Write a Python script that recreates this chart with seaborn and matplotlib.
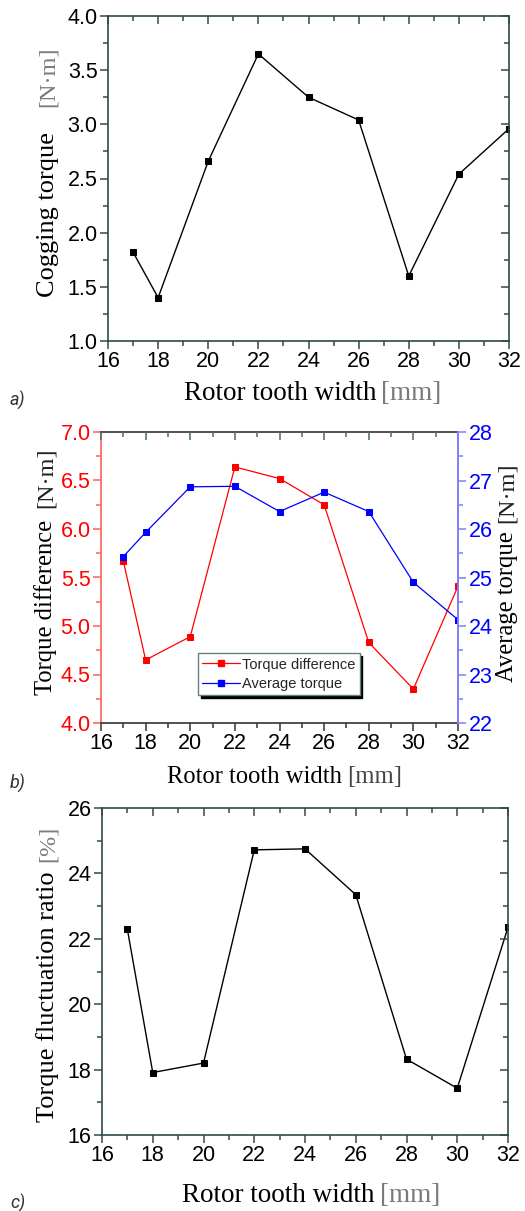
import numpy as np
import pandas as pd
import matplotlib
matplotlib.use("Agg")
import matplotlib.pyplot as plt
from matplotlib.ticker import MultipleLocator, FormatStrFormatter
from matplotlib.lines import Line2D
import seaborn as sns

# Rotor tooth width sweep [mm]
tooth_width = [17, 18, 20, 22, 24, 26, 28, 30, 32]

# a) cogging torque [N·m]
cogging_torque = [1.82, 1.40, 2.66, 3.65, 3.25, 3.04, 1.60, 2.54, 2.96]

# b) torque difference [N·m] and average torque [N·m]
torque_difference = [5.67, 4.65, 4.89, 6.64, 6.52, 6.25, 4.83, 4.35, 5.41]
average_torque = [25.43, 25.93, 26.87, 26.88, 26.36, 26.76, 26.36, 24.90, 24.13]

# c) torque fluctuation ratio [%]
fluctuation_ratio = [22.29, 17.91, 18.20, 24.72, 24.75, 23.35, 18.32, 17.43, 22.35]

x_ticks = [16, 18, 20, 22, 24, 26, 28, 30, 32]

sns.set_style("ticks")
plt.rcParams["font.family"] = ["Liberation Sans", "DejaVu Sans"]

W, H = 525, 1211
fig = plt.figure(figsize=(W / 100, H / 100), dpi=100)
fig.patch.set_facecolor("white")

SPINE = "#2f4a4a"
SERIF = "Liberation Serif"
TICK_FS = 15.5
MAJ, MIN = 6, 3.5


def box(l, t, r, b):
    return [l / W, 1 - b / H, (r - l) / W, (b - t) / H]


def ftext(x, y, s, **kw):
    fig.text(x / W, 1 - y / H, s, **kw)


def style_frame(ax, color=SPINE):
    for sp in ax.spines.values():
        sp.set_visible(True)
        sp.set_color(color)
        sp.set_linewidth(1.2)
    ax.tick_params(axis="both", which="both", labelsize=TICK_FS, labelcolor="black",
                   direction="out", top=False, right=False, color=color,
                   width=1.1, pad=1.5)
    ax.tick_params(axis="both", which="major", length=MAJ)
    ax.tick_params(axis="both", which="minor", length=MIN)
    ax.set_facecolor("white")
    ax.grid(False)


def plot_series(ax, y, color, ms=5.0, lw=1.0):
    df = pd.DataFrame({"w": tooth_width, "v": y})
    sns.lineplot(data=df, x="w", y="v", ax=ax, color=color, marker="s",
                 markersize=ms, markeredgecolor=color, markerfacecolor=color,
                 linewidth=lw, legend=False)
    ax.set_xlabel("")
    ax.set_ylabel("")


def top_ticks(ax, color=SPINE):
    # inward ticks along the top edge
    axt = ax.twiny()
    axt.set_xlim(ax.get_xlim())
    axt.xaxis.set_major_locator(MultipleLocator(2))
    axt.xaxis.set_minor_locator(MultipleLocator(1))
    axt.tick_params(axis="x", which="both", direction="in", labeltop=False,
                    top=True, bottom=False, color=color, width=1.1)
    axt.tick_params(axis="x", which="major", length=MAJ)
    axt.tick_params(axis="x", which="minor", length=MIN)
    for sp in axt.spines.values():
        sp.set_visible(False)
    return axt


def right_ticks(ax, major, minor, color=SPINE):
    # inward ticks along the right edge
    axr = ax.twinx()
    axr.set_ylim(ax.get_ylim())
    axr.yaxis.set_major_locator(MultipleLocator(major))
    axr.yaxis.set_minor_locator(MultipleLocator(minor))
    axr.tick_params(axis="y", which="both", direction="in", labelright=False,
                    right=True, left=False, color=color, width=1.1)
    axr.tick_params(axis="y", which="major", length=MAJ)
    axr.tick_params(axis="y", which="minor", length=MIN)
    for sp in axr.spines.values():
        sp.set_visible(False)
    return axr


# ---------------- a) cogging torque ----------------
ax1 = fig.add_axes(box(108, 16, 509, 341))
plot_series(ax1, cogging_torque, "black")
ax1.set_xlim(16, 32)
ax1.set_ylim(1.0, 4.0)
ax1.set_xticks(x_ticks)
ax1.xaxis.set_minor_locator(MultipleLocator(1))
ax1.yaxis.set_major_locator(MultipleLocator(0.5))
ax1.yaxis.set_minor_locator(MultipleLocator(0.25))
ax1.yaxis.set_major_formatter(FormatStrFormatter("%.1f"))
style_frame(ax1)
top_ticks(ax1)
right_ticks(ax1, 0.5, 0.25)

ftext(48, 297, "Cogging torque", rotation=90, ha="center", va="bottom",
      family=SERIF, fontsize=19, color="black")
ftext(48, 107, "[N·m]", rotation=90, ha="center", va="bottom",
      family=SERIF, fontsize=17.5, color="#7a7a7a")
ftext(377, 393, "Rotor tooth width", ha="right", va="center",
      family=SERIF, fontsize=19.5, color="black")
ftext(381, 393, "[mm]", ha="left", va="center",
      family=SERIF, fontsize=19.5, color="#7a7a7a")
ftext(10, 400, "a)", ha="left", va="center", family="Roboto",
      style="italic", fontsize=13, color="#333333")

# ---------------- b) torque difference / average torque ----------------
RED, BLUE = "#ff0000", "#0000ff"
ax2 = fig.add_axes(box(101, 432, 458, 723))
plot_series(ax2, torque_difference, RED, ms=4.2, lw=0.9)
ax2.set_xlim(16, 32)
ax2.set_ylim(4.0, 7.0)
ax2.set_xticks(x_ticks)
ax2.xaxis.set_minor_locator(MultipleLocator(1))
ax2.yaxis.set_major_locator(MultipleLocator(0.5))
ax2.yaxis.set_minor_locator(MultipleLocator(0.25))
ax2.yaxis.set_major_formatter(FormatStrFormatter("%.1f"))
style_frame(ax2, color="#333333")
ax2.tick_params(axis="y", which="both", color="#ff6060", labelcolor=RED)
ax2.spines["left"].set_color("#ff6060")
ax2.spines["right"].set_visible(False)
top_ticks(ax2, color="#4a6a6a")

ax3 = ax2.twinx()
plot_series(ax3, average_torque, BLUE, ms=4.2, lw=0.9)
ax3.set_ylim(22, 28)
ax3.yaxis.set_major_locator(MultipleLocator(1))
ax3.yaxis.set_minor_locator(MultipleLocator(0.5))
for name, sp in ax3.spines.items():
    sp.set_visible(name == "right")
ax3.spines["right"].set_color("#7f7fff")
ax3.spines["right"].set_linewidth(1.4)
ax3.tick_params(axis="y", which="both", direction="out", color="#7f7fff",
                labelcolor=BLUE, labelsize=TICK_FS, width=1.1, pad=1.5)
ax3.tick_params(axis="y", which="major", length=MAJ)
ax3.tick_params(axis="y", which="minor", length=MIN)
ax3.grid(False)

handles = [
    Line2D([], [], color=RED, marker="s", markersize=4.5, lw=0.9),
    Line2D([], [], color=BLUE, marker="s", markersize=4.5, lw=0.9),
]
leg = ax3.legend(handles, ["Torque difference", "Average torque"],
                 loc="lower left", bbox_to_anchor=(0.272, 0.096),
                 borderaxespad=0, fontsize=10.5, frameon=True, fancybox=False,
                 shadow={"color": "black", "alpha": 1.0},
                 handlelength=2.6, handletextpad=0.1, labelspacing=0.35,
                 borderpad=0.3)
leg.get_frame().set_edgecolor("#6a8080")
leg.get_frame().set_linewidth(1.0)
leg.get_frame().set_alpha(1.0)

ftext(46, 695, "Torque difference", rotation=90, ha="center", va="bottom",
      family=SERIF, fontsize=17.7, color="black")
ftext(46, 508, "[N·m]", rotation=90, ha="center", va="bottom",
      family=SERIF, fontsize=17.5, color="#222222")
ftext(507, 682, "Average torque", rotation=90, ha="center", va="bottom",
      family=SERIF, fontsize=17.7, color="black")
ftext(507, 523, "[N·m]", rotation=90, ha="center", va="bottom",
      family=SERIF, fontsize=17.5, color="#222222")
ftext(342, 777, "Rotor tooth width", ha="right", va="center",
      family=SERIF, fontsize=17.7, color="black")
ftext(347, 777, "[mm]", ha="left", va="center",
      family=SERIF, fontsize=17.7, color="#444444")
ftext(10, 783, "b)", ha="left", va="center", family="Roboto",
      style="italic", fontsize=13, color="#333333")

# ---------------- c) torque fluctuation ratio ----------------
ax4 = fig.add_axes(box(102, 808, 508, 1135))
plot_series(ax4, fluctuation_ratio, "black")
ax4.set_xlim(16, 32)
ax4.set_ylim(16, 26)
ax4.set_xticks(x_ticks)
ax4.xaxis.set_minor_locator(MultipleLocator(1))
ax4.yaxis.set_major_locator(MultipleLocator(2))
ax4.yaxis.set_minor_locator(MultipleLocator(1))
style_frame(ax4)
top_ticks(ax4)
right_ticks(ax4, 2, 1)

ftext(48, 1122, "Torque fluctuation ratio", rotation=90, ha="center", va="bottom",
      family=SERIF, fontsize=19, color="black")
ftext(48, 862, "[%]", rotation=90, ha="center", va="bottom",
      family=SERIF, fontsize=17.5, color="#7a7a7a")
ftext(375, 1195, "Rotor tooth width", ha="right", va="center",
      family=SERIF, fontsize=19.5, color="black")
ftext(380, 1195, "[mm]", ha="left", va="center",
      family=SERIF, fontsize=19.5, color="#7a7a7a")
ftext(10, 1203, "c)", ha="left", va="center", family="Roboto",
      style="italic", fontsize=13, color="#333333")

fig.savefig("out.png", dpi=100, facecolor="white")
